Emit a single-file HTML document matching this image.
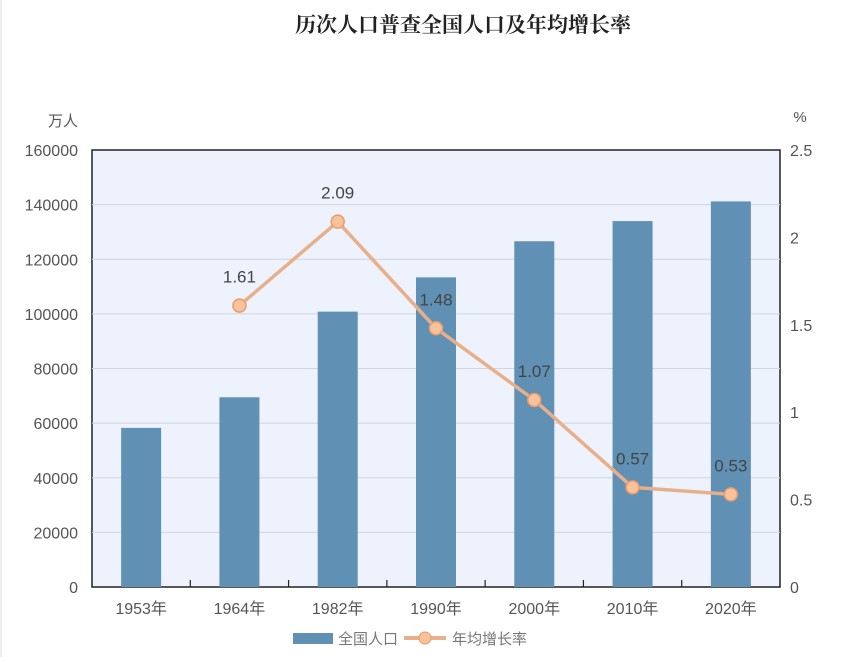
<!DOCTYPE html>
<html><head><meta charset="utf-8"><style>
body{margin:0;background:#fff;width:841px;height:657px;overflow:hidden}
text{font-family:"Liberation Sans","Noto Sans CJK SC",sans-serif}
</style></head><body>
<svg width="841" height="657">
<rect x="0" y="0" width="841" height="657" fill="#fff"/>
<line x1="1" y1="0" x2="1" y2="657" stroke="#ddd"/>
<text x="463" y="32" text-anchor="middle" font-size="21" fill="#222" style="font-family:'Liberation Serif','Noto Serif CJK SC',serif" font-weight="bold">历次人口普查全国人口及年均增长率</text>
<text x="78" y="126" text-anchor="end" font-size="15" fill="#555">万人</text>
<text x="800" y="122" text-anchor="middle" font-size="15" fill="#555">%</text>
<rect x="92" y="150" width="688" height="437" fill="#eef2fc" stroke="#222" stroke-width="1.5"/>
<g id="grid"></g><g id="bars"></g><g id="line"></g><g id="labels"></g>
<g>
<rect x="293" y="633" width="40" height="11" fill="#6090b4"/>
<text x="338" y="644" font-size="15" fill="#777">全国人口</text>
<line x1="404" y1="638" x2="446" y2="638" stroke="#e8b08a" stroke-width="4"/>
<circle cx="425" cy="638" r="6" fill="#f9c39a" stroke="#e89a70"/>
<text x="452" y="644" font-size="15" fill="#777">年均增长率</text>
</g>
</svg>
<script>
const categories=["1953年","1964年","1982年","1990年","2000年","2010年","2020年"];
const population=[58260,69458,100818,113368,126583,133972,141178];
const rates=[null,1.61,2.09,1.48,1.07,0.57,0.53];
const leftTicks=[0,20000,40000,60000,80000,100000,120000,140000,160000];
const rightTicks=["0","0.5","1","1.5","2","2.5"];
const X0=92,X1=780,Y0=587,Y1=150,LMAX=160000,RMAX=2.5;
const band=(X1-X0)/categories.length;
const xc=i=>X0+band*(i+0.5);
const yl=v=>Y0-(v/LMAX)*(Y0-Y1);
const yr=v=>Y0-(v/RMAX)*(Y0-Y1);
const NS="http://www.w3.org/2000/svg";
function mk(tag,attrs,parent,txt){const e=document.createElementNS(NS,tag);for(const k in attrs)e.setAttribute(k,attrs[k]);if(txt!=null)e.textContent=txt;document.getElementById(parent)?document.getElementById(parent).appendChild(e):parent.appendChild(e);return e;}
leftTicks.forEach(t=>{
 if(t>0&&t<LMAX){const g=mk('line',{x1:X0,x2:X1,y1:yl(t),y2:yl(t),stroke:'#d0d4de','stroke-width':1},'grid');
 
 }
 const l=mk('text',{x:78,y:yl(t)+6,'text-anchor':'end','font-size':16,fill:'#555'},'labels',String(t));
 
 
});
rightTicks.forEach(t=>{
 const l=mk('text',{x:790,y:yr(parseFloat(t))+6,'font-size':16,fill:'#555'},'labels',t);
 
 
});
categories.forEach((c,i)=>{
 const b=mk('rect',{x:xc(i)-20,y:yl(population[i]),width:40,height:Y0-yl(population[i]),fill:'#6090b4'},'bars');
 
 
 const l=mk('text',{x:xc(i),y:614,'text-anchor':'middle','font-size':16,fill:'#555'},'labels',c);
 
 
 if(i>0){const tk=mk('line',{x1:X0+band*i,x2:X0+band*i,y1:Y0,y2:Y0-7,stroke:'#222','stroke-width':1.2},'grid');
 
 }
});
const pts=rates.map((r,i)=>r==null?null:[xc(i),yr(r)]).filter(p=>p);
const pl=mk('polyline',{points:pts.map(p=>p.join(',')).join(' '),fill:'none',stroke:'#e8b08a','stroke-width':3.5},'line');


rates.forEach((r,i)=>{
 if(r==null)return;
 const c=mk('circle',{cx:xc(i),cy:yr(r),r:6.5,fill:'#f9c39a',stroke:'#e89a70','stroke-width':1.5},'line');
 
 
 const t=mk('text',{x:xc(i),y:yr(r)-23,'text-anchor':'middle','font-size':17,fill:'#444'},'labels',r.toFixed(2));
 
 
});
</script>
</body></html>
